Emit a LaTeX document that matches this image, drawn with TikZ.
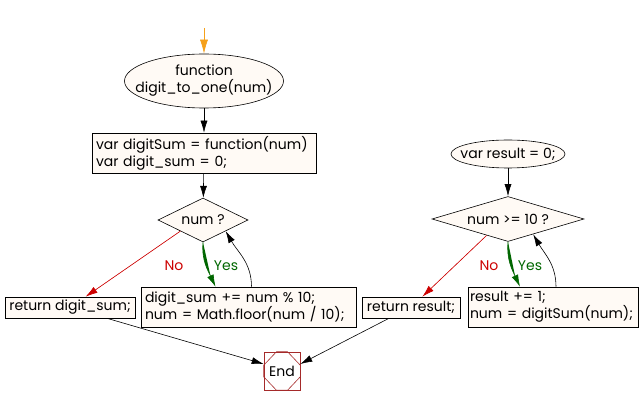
\documentclass[tikz,border=0pt]{standalone}
\usepackage{fontspec}
\setmainfont{Poppins}
\usetikzlibrary{arrows.meta,shapes.geometric,calc}

\definecolor{paper}{HTML}{FFFAF5}
\definecolor{nored}{HTML}{CC0000}
\definecolor{yesgreen}{HTML}{006600}
\definecolor{stopred}{HTML}{A52A2A}
\definecolor{startorange}{HTML}{F5A01A}

\begin{document}
\begin{tikzpicture}%
  [x=1pt,y=-1pt,line width=0.6pt,
   every node/.style={font=\fontsize{14}{17}\selectfont},
   term/.style=
    {draw,ellipse,fill=paper},
   stmt/.style=
    {draw,fill=paper,inner xsep=4pt,inner ysep=0pt,align=left},
   test/.style=
    {draw,diamond,fill=paper},
   stopbox/.style=
    {draw=stopred,minimum width=36pt,minimum height=38pt,inner sep=0pt},
   flow/.style={-{Latex[length=12pt,width=7pt]}},
   noflow/.style={flow,draw=nored,fill=nored},
   yesflow/.style={flow,draw=yesgreen,fill=yesgreen},
   startflow/.style={draw=startorange,-{Latex[length=14pt,width=8pt,color=startorange]}},
   nolabel/.style={text=nored},
   yeslabel/.style={text=yesgreen}
  ]
  \useasboundingbox (0,0) rectangle (641,406);
  % left part
  \coordinate (start) at (204,28);
  \node[term,minimum width=159pt,minimum height=54pt,
    label={[align=center]center:{function\\digit\_to\_one(num)}}] (fn) at (204,81) {};
  \node[stmt,text width=216pt,minimum height=40pt] (init) at (204,153)
    {var digitSum = function(num)\\var digit\_sum = 0;};
  \node[test,minimum width=90pt,minimum height=44pt,
    label=center:{num ?}] (num) at (203,220) {};
  \node[stmt,minimum width=130pt,minimum height=21pt,align=center] (ret1) at (70,307.5)
    {return digit\_sum;};
  \node[stmt,text width=207pt,minimum height=40pt] (body) at (248.5,307)
    {digit\_sum += num \% 10;\\num = Math.floor(num / 10);};
  \node[stopbox] (stop) at (282,371) {End};
  \draw[stopred] ($(stop.north west)!0.35!(stop.north east)$)
    -- ($(stop.north west)!0.35!(stop.south west)$)
    -- ($(stop.north west)!0.65!(stop.south west)$)
    -- ($(stop.south west)!0.35!(stop.south east)$)
    -- ($(stop.south west)!0.65!(stop.south east)$)
    -- ($(stop.north east)!0.65!(stop.south east)$)
    -- ($(stop.north east)!0.35!(stop.south east)$)
    -- ($(stop.north west)!0.65!(stop.north east)$) -- cycle;
  \node[nolabel] (no1) at (174,266) {No};
  \node[yeslabel] (yes1) at (226,266) {Yes};
  \draw[startflow] (start) -- (fn);
  \draw[flow] (fn) -- (init);
  \draw[flow] (init) -- (num);
  \draw[noflow] (num.south west) -- (ret1);
  \draw[yesflow] (num.south) to[out=-95,in=115] ([xshift=-33pt]body.north);
  \draw[flow] ([xshift=3pt]body.north) to[out=90,in=-60] (num.south east);
  \draw[flow] ([xshift=37pt]ret1.south) -- ([yshift=7pt]stop.west);
  % right part
  \node[term,minimum width=114pt,minimum height=28pt,
    label=center:{var result = 0;}] (res) at (508,154) {};
  \node[test,minimum width=152pt,minimum height=45pt,
    label=center:{num >= 10 ?}] (check) at (508,219) {};
  \node[stmt,minimum width=98pt,minimum height=21pt,align=center] (ret2) at (411,307.5)
    {return result;};
  \node[stmt,text width=166pt,inner xsep=2pt,minimum height=40pt] (step) at (553,307)
    {result += 1;\\\mbox{num = digitSum(num);}};
  \node[nolabel] (no2) at (489,266) {No};
  \node[yeslabel] (yes2) at (530,266) {Yes};
  \draw[flow] (res) -- (check);
  \draw[noflow] ($(check.west)!0.72!(check.south)$) -- (ret2);
  \draw[yesflow] (check.south) to[out=-95,in=115] ([xshift=-33pt]step.north);
  \draw[flow] ([xshift=3pt]step.north) to[out=90,in=-60] ($(check.south)!0.33!(check.east)$);
  \draw[flow] ([xshift=-22pt]ret2.south) -- ([yshift=7pt]stop.east);
\end{tikzpicture}
\end{document}
